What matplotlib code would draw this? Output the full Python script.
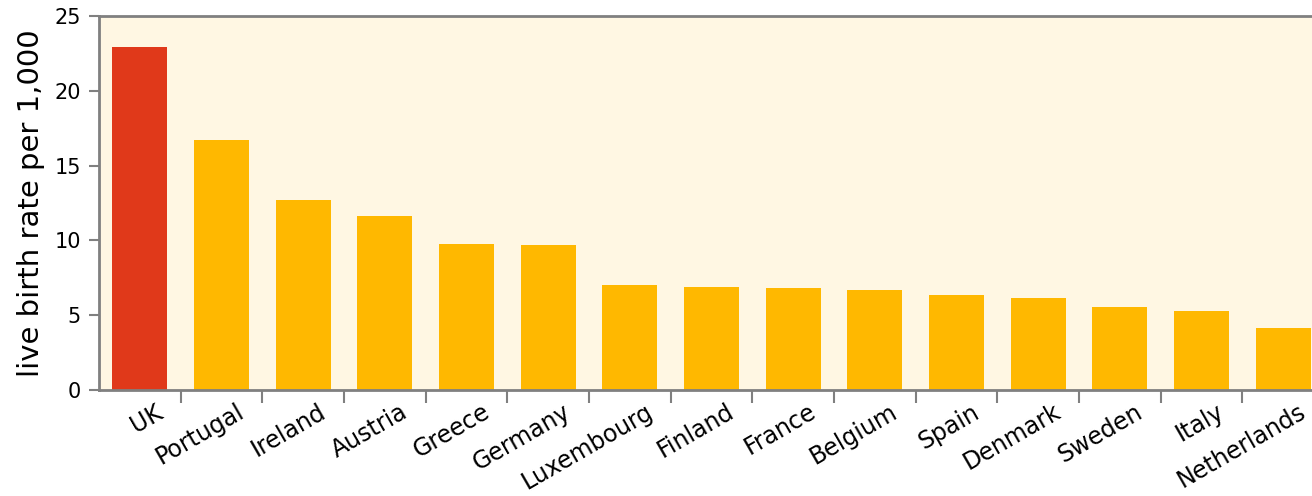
import numpy as np
import matplotlib.pyplot as plt
import matplotlib.transforms as mtransforms
from matplotlib.ticker import FixedLocator

# 출생률 데이터
countries = ['UK', 'Portugal', 'Ireland', 'Austria', 'Greece', 'Germany',
             'Luxembourg', 'Finland', 'France', 'Belgium', 'Spain',
             'Denmark', 'Sweden', 'Italy', 'Netherlands']
rates = [22.9, 16.7, 12.7, 11.6, 9.75, 9.7, 7.0, 6.9, 6.8, 6.7,
         6.35, 6.15, 5.55, 5.3, 4.15]
y_ticks = [0, 5, 10, 15, 20, 25]

UK_COLOR = '#E0391A'
BAR_COLOR = '#FFB800'
BG_COLOR = '#FFF7E3'
SPINE_COLOR = '#808080'

fig = plt.figure(figsize=(13.12, 4.96), dpi=100)
ax = fig.add_axes([99 / 1312, 106 / 496, 1225 / 1312, 374 / 496])
ax.set_facecolor(BG_COLOR)

x = np.arange(len(countries))
colors = [UK_COLOR if c == 'UK' else BAR_COLOR for c in countries]
ax.bar(x, rates, width=0.67, color=colors, zorder=2)

ax.set_xlim(-0.5, len(countries) - 0.5)
ax.set_ylim(0, 25)
ax.set_yticks(y_ticks)
ax.tick_params(axis='y', labelsize=15, length=7, width=1.5, color=SPINE_COLOR, pad=6)

# 라벨은 막대 가운데, 눈금선은 막대 사이에
ax.set_xticks(x)
ax.set_xticklabels(countries, rotation=30, ha='right', rotation_mode='anchor', fontsize=17)
ax.tick_params(axis='x', which='major', length=0, pad=7)
ax.xaxis.set_minor_locator(FixedLocator(np.arange(0.5, len(countries) - 0.5, 1.0)))
ax.tick_params(axis='x', which='minor', length=9, width=1.5, color=SPINE_COLOR, direction='out')
shift = mtransforms.ScaledTranslation(15 / 100, 0, fig.dpi_scale_trans)
for lbl in ax.get_xticklabels():
    lbl.set_transform(lbl.get_transform() + shift)

ax.set_ylabel('live birth rate per 1,000', fontsize=21)
ax.yaxis.set_label_coords(-0.044, 0.5)

for s in ax.spines.values():
    s.set_color(SPINE_COLOR)
    s.set_linewidth(2)

fig.savefig('out.png', dpi=100)
